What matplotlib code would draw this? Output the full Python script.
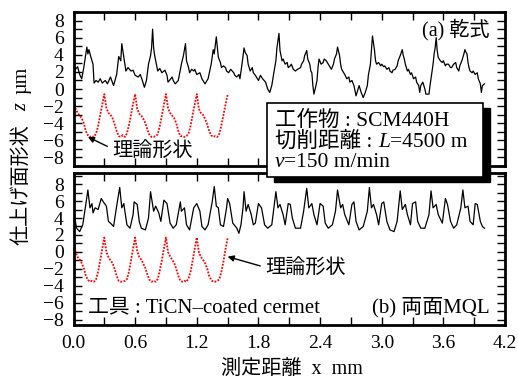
import numpy as np
import matplotlib
matplotlib.use("Agg")
import matplotlib.pyplot as plt
from matplotlib.patches import Rectangle
from matplotlib.text import Annotation
from matplotlib.ticker import MultipleLocator, FormatStrFormatter

# measured profile, (a) dry
dry_x = [0.00, 0.02, 0.04, 0.06, 0.08, 0.10, 0.13, 0.14, 0.15, 0.17, 0.19, 0.20, 0.22, 0.24, 0.26, 0.28,
         0.31, 0.33, 0.36, 0.39, 0.42, 0.44, 0.46, 0.47, 0.49, 0.50, 0.51, 0.53, 0.56, 0.58, 0.60, 0.63,
         0.65, 0.67, 0.69, 0.71, 0.73, 0.75, 0.76, 0.77, 0.78, 0.79, 0.82, 0.84, 0.86, 0.89, 0.91, 0.92,
         0.96, 0.97, 0.99, 1.02, 1.05, 1.07, 1.09, 1.10, 1.12, 1.13, 1.15, 1.17, 1.18, 1.20, 1.23, 1.25,
         1.28, 1.30, 1.31, 1.34, 1.36, 1.37, 1.39, 1.41, 1.43, 1.44, 1.46, 1.48, 1.49, 1.51, 1.53, 1.56,
         1.57, 1.59, 1.61, 1.62, 1.64, 1.66, 1.67, 1.69, 1.70, 1.72, 1.74, 1.75, 1.77, 1.80, 1.82, 1.84,
         1.87, 1.89, 1.91, 1.93, 1.95, 1.97, 1.98, 2.00, 2.01, 2.03, 2.04, 2.06, 2.08, 2.09, 2.11, 2.12,
         2.14, 2.16, 2.18, 2.21, 2.22, 2.24, 2.25, 2.27, 2.28, 2.30, 2.31, 2.32, 2.33, 2.34, 2.36, 2.37,
         2.38, 2.39, 2.41, 2.43, 2.44, 2.46, 2.48, 2.50, 2.51, 2.53, 2.54, 2.56, 2.57, 2.59, 2.60, 2.61,
         2.63, 2.64, 2.66, 2.68, 2.69, 2.71, 2.73, 2.74, 2.75, 2.77, 2.78, 2.80, 2.82, 2.84, 2.86, 2.87,
         2.89, 2.90, 2.91, 2.93, 2.94, 2.95, 2.97, 2.99, 3.00, 3.02, 3.03, 3.05, 3.07, 3.08, 3.10, 3.11,
         3.13, 3.15, 3.16, 3.18, 3.20, 3.21, 3.22, 3.23, 3.25, 3.26, 3.28, 3.29, 3.31, 3.33, 3.34, 3.36,
         3.37, 3.38, 3.40, 3.42, 3.43, 3.46, 3.47, 3.49, 3.50, 3.51, 3.52, 3.53, 3.54, 3.55, 3.57, 3.59,
         3.60, 3.62, 3.63, 3.65, 3.67, 3.68, 3.70, 3.72, 3.73, 3.75, 3.76, 3.78, 3.80, 3.81, 3.82, 3.83,
         3.84, 3.85, 3.86, 3.88, 3.89, 3.91, 3.93, 3.94, 3.96, 3.97, 3.98, 4.00]
dry_z = [2.9, 2.3, 2.6, 1.7, 1.2, 2.5, 4.9, 4.1, 4.6, 3.7, 2.9, 0.7, 1.0, 0.8, 1.2, 0.7,
         1.0, 0.6, 1.4, 0.4, 1.7, 3.8, 3.3, 5.3, 3.7, 2.9, 2.1, 2.5, 2.1, 2.2, 1.6, 1.4,
         1.7, 1.0, 0.2, 1.0, 2.9, 3.9, 4.8, 7.0, 4.8, 3.9, 2.1, 2.4, 1.9, 2.2, 1.6, 0.8,
         1.4, 1.0, 0.6, 1.0, 2.9, 3.9, 5.3, 3.3, 2.5, 1.9, 2.3, 2.1, 2.3, 1.7, 1.9, 1.2,
         0.6, 1.0, 1.2, 2.9, 4.6, 4.1, 6.1, 3.7, 3.1, 2.5, 2.7, 2.5, 2.1, 1.9, 2.3, 1.9,
         1.6, 1.4, 1.7, 1.2, 2.9, 4.8, 4.3, 3.9, 2.9, 2.1, 2.5, 1.9, 1.6, 1.0, 1.6, 1.2,
         0.8, 0.0, -0.4, 0.4, 1.9, 3.3, 4.8, 6.5, 4.5, 3.3, 3.5, 2.9, 3.1, 2.5, 2.7, 2.9,
         2.3, 2.1, 2.3, 2.5, 2.9, 3.3, 3.9, 4.5, 3.5, 2.9, 2.1, 1.9, 0.4, -0.6, 0.4, 1.0,
         2.5, 3.5, 2.9, 3.1, 3.5, 3.3, 2.9, 2.5, 2.3, 2.9, 3.5, 4.1, 4.9, 3.9, 2.9, 2.3,
         1.9, 1.7, 1.2, 1.4, 0.8, 1.0, 0.4, -0.2, -0.8, 0.0, 0.4, -0.4, -1.0, -0.4, 0.4, 1.6,
         2.9, 4.5, 6.2, 4.5, 3.3, 2.9, 3.1, 2.7, 2.9, 2.6, 2.7, 2.3, 2.5, 2.1, 1.9, 2.2,
         2.3, 2.7, 3.3, 3.9, 4.6, 3.9, 3.5, 2.9, 2.1, 2.3, 1.7, 1.9, 1.2, 1.4, 0.8, 0.4,
         -0.4, 0.4, 0.8, 0.0, -0.6, -0.6, 0.4, 2.1, 2.9, 4.1, 4.8, 6.0, 4.5, 3.7, 3.3, 3.1,
         3.3, 2.7, 2.9, 2.9, 2.5, 2.5, 2.9, 3.1, 2.5, 2.1, 2.7, 3.3, 4.1, 4.6, 4.3, 4.1,
         3.1, 2.5, 2.1, 1.9, 2.1, 1.7, 1.9, 1.2, 0.6, -0.4, 0.4, 0.6]

# measured profile, (b) MQL on both faces
mql_x = [0.00, 0.01, 0.03, 0.06, 0.09, 0.11, 0.14, 0.16, 0.18, 0.19, 0.21, 0.24, 0.27, 0.29, 0.32, 0.34,
         0.36, 0.39, 0.42, 0.45, 0.47, 0.49, 0.50, 0.52, 0.55, 0.58, 0.59, 0.62, 0.64, 0.66, 0.70, 0.73,
         0.75, 0.78, 0.80, 0.83, 0.85, 0.88, 0.91, 0.94, 0.97, 1.00, 1.04, 1.05, 1.08, 1.10, 1.13, 1.17,
         1.20, 1.23, 1.25, 1.28, 1.31, 1.35, 1.37, 1.39, 1.41, 1.43, 1.46, 1.49, 1.50, 1.52, 1.55, 1.59,
         1.61, 1.63, 1.65, 1.66, 1.68, 1.70, 1.73, 1.75, 1.77, 1.80, 1.83, 1.86, 1.89, 1.93, 1.95, 1.97,
         1.99, 2.01, 2.04, 2.06, 2.09, 2.11, 2.13, 2.16, 2.21, 2.24, 2.27, 2.29, 2.32, 2.34, 2.37, 2.40,
         2.43, 2.45, 2.48, 2.52, 2.55, 2.57, 2.60, 2.62, 2.64, 2.68, 2.71, 2.73, 2.75, 2.78, 2.82, 2.86,
         2.88, 2.90, 2.92, 2.95, 2.97, 3.00, 3.02, 3.05, 3.08, 3.12, 3.15, 3.18, 3.20, 3.23, 3.25, 3.28,
         3.30, 3.33, 3.35, 3.38, 3.42, 3.46, 3.48, 3.50, 3.53, 3.55, 3.59, 3.62, 3.64, 3.67, 3.70, 3.73,
         3.77, 3.79, 3.81, 3.84, 3.86, 3.89, 3.91, 3.93, 3.96, 3.98, 4.00]
mql_z = [5.2, 4.2, 2.8, 2.4, 3.2, 4.8, 7.3, 5.2, 5.7, 4.6, 5.2, 5.0, 6.3, 5.9, 5.4, 3.6,
         3.4, 3.0, 5.4, 7.6, 5.2, 5.7, 4.8, 3.2, 2.8, 4.4, 5.9, 5.6, 3.6, 2.8, 2.6, 4.0,
         7.1, 4.8, 5.4, 4.6, 3.6, 6.1, 5.7, 3.4, 2.8, 3.2, 5.9, 4.8, 5.2, 3.2, 2.6, 5.2,
         5.7, 4.8, 3.0, 2.6, 3.2, 5.9, 7.7, 5.4, 5.2, 3.2, 3.0, 5.2, 6.3, 5.7, 3.4, 2.8,
         2.2, 3.2, 5.2, 7.1, 4.8, 5.6, 4.4, 3.2, 3.4, 5.7, 5.2, 3.2, 2.8, 3.2, 5.2, 7.1,
         5.2, 5.6, 4.4, 3.2, 5.7, 5.6, 4.0, 2.8, 2.8, 4.8, 7.5, 5.2, 5.7, 4.4, 3.2, 5.7,
         5.4, 3.4, 2.8, 3.2, 4.8, 7.3, 5.2, 5.6, 4.4, 3.2, 5.6, 5.9, 3.6, 2.6, 3.0, 4.8,
         7.6, 5.2, 5.6, 4.4, 3.2, 5.7, 5.9, 3.6, 2.6, 2.4, 3.6, 7.2, 5.0, 5.6, 4.4, 3.2,
         5.7, 5.9, 3.6, 2.8, 2.8, 4.4, 7.2, 5.2, 5.6, 4.4, 3.4, 6.3, 5.6, 3.6, 2.8, 3.2,
         5.2, 7.3, 5.2, 5.4, 3.6, 3.2, 5.7, 5.6, 3.6, 3.0, 2.8]

# theoretical profile, x grid in mm
theory_x = np.linspace(0.0, 1.5, 76)
theory_dry = [-0.7, -2.3, -2.8, -3.1, -3.4, -4.0, -4.9, -5.4, -5.6, -5.5, -5.6, -5.2, -4.3, -3.0, -1.8,
              -0.6, -2.2, -2.8, -3.0, -3.4, -4.1, -4.9, -5.5, -5.6, -5.4, -5.6, -5.2, -4.2, -3.0, -1.7,
              -0.6, -2.3, -2.9, -3.1, -3.5, -4.0, -4.8, -5.4, -5.6, -5.6, -5.5, -5.3, -4.3, -3.1, -1.8,
              -0.6, -2.2, -2.8, -3.1, -3.4, -4.0, -4.9, -5.5, -5.5, -5.6, -5.5, -5.2, -4.3, -3.0, -1.8,
              -0.6, -2.3, -2.8, -3.0, -3.5, -4.1, -4.9, -5.4, -5.6, -5.5, -5.6, -5.2, -4.2, -3.0, -1.8,
              -0.7]
theory_mql = [1.7, 0.0, -0.6, -0.9, -1.3, -1.9, -2.8, -3.3, -3.5, -3.4, -3.5, -3.2, -2.3, -1.0, 0.4,
              1.7, 0.0, -0.6, -1.0, -1.3, -2.0, -2.8, -3.4, -3.5, -3.5, -3.4, -3.2, -2.3, -1.0, 0.4,
              1.7, 0.1, -0.6, -0.9, -1.4, -1.9, -2.7, -3.3, -3.5, -3.4, -3.5, -3.2, -2.2, -1.0, 0.4,
              1.7, 0.0, -0.5, -0.9, -1.3, -2.0, -2.8, -3.4, -3.5, -3.4, -3.5, -3.1, -2.3, -1.0, 0.4,
              1.7, 0.0, -0.6, -0.9, -1.3, -1.9, -2.8, -3.3, -3.5, -3.5, -3.4, -3.2, -2.3, -1.1, 0.4,
              1.6]

xtick_values = [0.0, 0.6, 1.2, 1.8, 2.4, 3.0, 3.6, 4.2]

plt.rcParams['font.family'] = ['Liberation Serif', 'Noto Sans CJK JP']
plt.rcParams['axes.unicode_minus'] = True


def W(px):
    return px / 518.0


def H(py):
    return 1.0 - py / 381.0


def style_axes(ax, ylim):
    ax.set_xlim(0.0, 4.2)
    ax.set_ylim(*ylim)
    ax.xaxis.set_major_locator(MultipleLocator(0.6))
    ax.xaxis.set_minor_locator(MultipleLocator(0.3))
    ax.yaxis.set_major_locator(MultipleLocator(2))
    ax.yaxis.set_minor_locator(MultipleLocator(1))
    ax.tick_params(which='both', direction='in', top=True, right=True, length=6, width=1)
    ax.tick_params(axis='both', labelsize=14, pad=7)
    for s in ax.spines.values():
        s.set_linewidth(2)


def main():
    fig = plt.figure(figsize=(5.18, 3.81), dpi=100)

    ax1 = fig.add_axes([W(73.5), H(166), W(505) - W(73.5), H(12) - H(166)])
    ax2 = fig.add_axes([W(73.5), H(325), W(505) - W(73.5), H(173) - H(325)])

    # (a) dry
    ax1.plot(dry_x, dry_z, color='black', lw=0.9)
    ax1.plot(theory_x, theory_dry, color='red', lw=1.3, ls=(0, (1, 0.8)))
    style_axes(ax1, (-9, 9))
    ax1.tick_params(axis='x', labelbottom=False)
    ax1.text(0.965, 0.885, "(a) 乾式", transform=ax1.transAxes, ha='right', va='center', fontsize=14.5)
    ax1.annotate("理論形状", xy=(0.14, -5.6), xytext=(0.38, -7.45), va='center', ha='left', fontsize=14.5,
                 arrowprops=dict(arrowstyle='-|>', color='black', lw=1, mutation_scale=9,
                                 shrinkA=2, shrinkB=0, relpos=(0, 0.7)))

    # (b) MQL
    ax2.plot(mql_x, mql_z, color='black', lw=0.9)
    ax2.plot(theory_x, theory_mql, color='red', lw=1.3, ls=(0, (1, 0.8)))
    style_axes(ax2, (-8.6, 9.3))
    ax2.set_xticks(xtick_values)
    ax2.xaxis.set_major_formatter(FormatStrFormatter('%.1f'))
    ax2.annotate("理論形状", xy=(1.50, -0.55), xytext=(1.87, -2.05), va='center', ha='left', fontsize=14.5,
                 arrowprops=dict(arrowstyle='-|>', color='black', lw=1, mutation_scale=9,
                                 shrinkA=2, shrinkB=0, relpos=(0, 0.6)))
    ax2.text(0.033, 0.115, "工具 : TiCN\u2013coated cermet", transform=ax2.transAxes,
             ha='left', va='center', fontsize=15)
    ax2.text(0.965, 0.115, "(b) 両面MQL", transform=ax2.transAxes, ha='right', va='center', fontsize=15)

    # condition box with drop shadow, sits over both panels
    shadow = Rectangle((W(274), H(182)), W(490) - W(274), H(108) - H(182), transform=fig.transFigure,
                       facecolor='black', edgecolor='black', zorder=5)
    box = Rectangle((W(267), H(177)), W(483) - W(267), H(102.5) - H(177), transform=fig.transFigure,
                    facecolor='white', edgecolor='black', lw=1.2, zorder=6)
    fig.patches.extend([shadow, box])

    fs = 15.5
    fig.text(W(275), H(126), "工作物 : SCM440H", fontsize=fs, va='baseline', zorder=7)
    t1 = fig.text(W(275), H(146.7), "切削距離 : ", fontsize=fs, va='baseline', zorder=7)
    t2 = fig.add_artist(Annotation("L", xy=(1, 0), xycoords=t1, va='bottom', ha='left',
                                   fontsize=fs, style='italic', zorder=7))
    fig.add_artist(Annotation("=4500 m", xy=(1, 0), xycoords=t2, va='bottom', ha='left',
                              fontsize=fs, zorder=7))
    t3 = fig.text(W(275), H(167), "v", fontsize=fs, style='italic', va='baseline', zorder=7)
    fig.add_artist(Annotation("=150 m/min", xy=(1, 0), xycoords=t3, va='bottom', ha='left',
                              fontsize=fs, zorder=7))

    # axis titles
    fig.text(W(22), H(185), "仕上げ面形状", rotation=90, ha='center', va='center', fontsize=14.5)
    fig.text(W(22), H(107), "z", rotation=90, ha='center', va='center', fontsize=14.5, style='italic')
    fig.text(W(22), H(80), "µm", rotation=90, ha='center', va='center', fontsize=14.5)
    fig.text(W(292), H(369), "測定距離  x  mm", ha='center', va='center', fontsize=14.5)

    fig.savefig("out.png", dpi=100)


if __name__ == "__main__":
    main()
